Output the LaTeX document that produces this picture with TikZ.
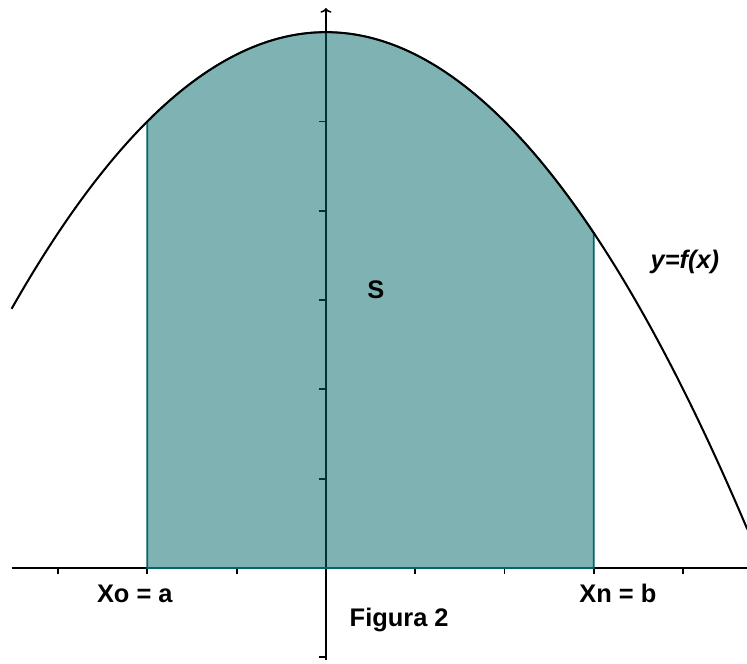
\documentclass[tikz,border=0pt]{standalone}
\usepackage{fontspec}
\setmainfont{Liberation Sans}
\usetikzlibrary{positioning,arrows.meta}
\definecolor{areateal}{RGB}{0,102,102}

\begin{document}
\begin{tikzpicture}[
  x=1cm,y=1cm,
  font=\fontsize{8.1}{9.5}\selectfont\bfseries,
  axis/.style={line width=0.5pt},
  curve/.style={line width=0.65pt},
  region/.style={fill=areateal,fill opacity=0.5,draw=areateal,line width=0.55pt},
  tick/.style={line width=0.55pt},
  label/.style={inner sep=1pt},
]
  \useasboundingbox (-3.65,-1.075) rectangle (4.715,6.36);

  % Axes and their ticks.
  \draw[axis] (-3.52,0) -- (4.72,0);
  \draw[axis,-{To[length=1.5pt,width=3.5pt]}] (0,-1.03) -- (0,6.27);
  \foreach \i in {-3,...,4} \draw[tick] (\i,0) -- (\i,-0.065);
  \foreach \j in {-1,1,2,3,4,5} \draw[tick] (0,\j) -- (-0.075,\j);

  % Shaded area between a and b.
  \coordinate (a) at (-2,0);
  \coordinate (b) at (3,0);
  \filldraw[region] (a) -- plot[domain=-2:3,samples=60] (\x,{6-\x*\x/4}) -- (b) -- cycle;

  % The curve y = f(x).
  \draw[curve] plot[domain=-3.52:4.72,samples=100,smooth] (\x,{6-\x*\x/4});

  % Labels.
  \node[label] (S) at (0.56,3.12) {S};
  \node[label,font=\fontsize{8.1}{9.5}\selectfont\bfseries\itshape] (fx) at (4.02,3.43) {y=f(x)};
  \node[label] (xa) at (-2.14,-0.29) {Xo = a};
  \node[label] (xb) at (3.27,-0.28) {Xn = b};
  \node[label] (fig) at (0.82,-0.58) {Figura 2};

\end{tikzpicture}
\end{document}
